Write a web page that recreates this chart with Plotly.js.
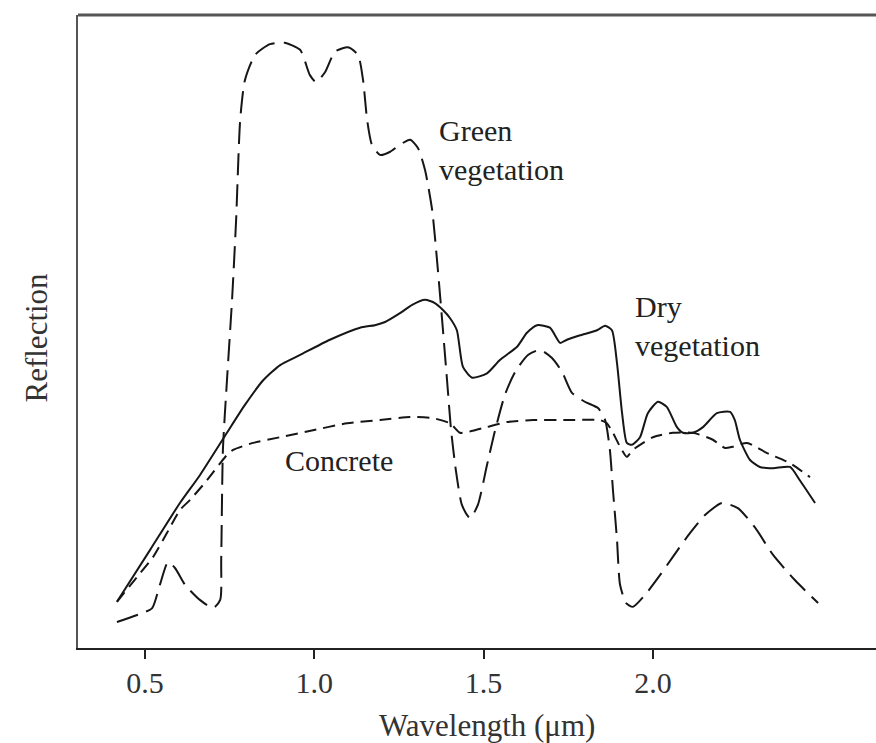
<!DOCTYPE html>
<html>
<head>
<meta charset="utf-8">
<script src="https://cdn.plot.ly/plotly-3.0.1.min.js"></script>
<style>html,body{margin:0;padding:0;background:#fff;}#chart{width:876px;height:743px;}</style>
</head>
<body>
<div id="chart"></div>
<script>
// Wavelength (µm) and relative reflection (0-100, arbitrary units)
const greenWavelength = [0.417,0.491,0.521,0.544,0.568,0.589,0.618,0.662,0.701,0.722,0.725,0.730,0.742,0.757,0.769,0.781,0.795,0.825,0.869,0.913,0.958,0.987,1.005,1.032,1.061,1.099,1.129,1.144,1.156,1.170,1.194,1.224,1.253,1.283,1.306,1.327,1.348,1.365,1.380,1.392,1.404,1.418,1.436,1.460,1.483,1.510,1.534,1.563,1.593,1.631,1.667,1.702,1.732,1.761,1.799,1.838,1.859,1.873,1.882,1.894,1.903,1.921,1.941,1.977,2.021,2.059,2.110,2.154,2.204,2.251,2.302,2.355,2.420,2.488];
const greenReflection = [4.1,5.5,6.3,10.0,13.6,12.6,10.0,7.6,6.3,7.6,13.9,31.3,42.3,55.0,67.6,83.4,89.7,93.7,95.4,95.6,94.5,90.5,89.4,91.0,94.2,94.9,93.7,89.7,83.4,79.5,77.9,78.4,79.5,80.3,79.0,75.5,69.2,59.7,50.2,42.3,34.4,28.1,22.6,20.5,22.6,28.9,34.4,40.0,43.6,46.3,47.1,45.8,43.6,40.3,38.9,37.9,36.0,31.3,25.0,17.1,10.0,7.1,6.5,8.4,11.5,14.4,18.2,21.0,22.9,22.1,19.0,14.7,10.7,7.1];

const dryWavelength = [0.417,0.515,0.603,0.662,0.742,0.795,0.849,0.899,0.958,1.046,1.135,1.179,1.209,1.253,1.289,1.327,1.356,1.380,1.401,1.421,1.439,1.466,1.510,1.548,1.599,1.628,1.658,1.696,1.726,1.746,1.785,1.835,1.859,1.879,1.894,1.909,1.923,1.938,1.962,1.985,2.015,2.041,2.071,2.089,2.118,2.148,2.189,2.228,2.242,2.257,2.287,2.316,2.355,2.405,2.434,2.479];
const dryReflection = [7.3,15.5,22.9,27.3,34.0,38.4,42.3,44.7,46.3,48.7,50.6,51.0,51.5,52.9,54.2,55.0,54.5,53.4,52.1,50.2,44.4,42.7,43.4,45.5,47.6,49.8,51.0,50.6,48.2,48.7,49.4,50.2,50.9,50.2,45.0,37.1,32.4,32.1,33.3,37.1,38.9,38.1,34.9,34.0,34.0,34.9,37.1,37.3,36.0,32.9,29.7,28.6,28.4,28.6,26.5,22.9];

const concreteWavelength = [0.417,0.476,0.524,0.565,0.603,0.633,0.683,0.722,0.742,0.760,0.819,0.899,0.996,1.097,1.194,1.283,1.351,1.401,1.430,1.451,1.510,1.569,1.646,1.746,1.844,1.864,1.882,1.903,1.923,1.941,2.000,2.059,2.118,2.177,2.213,2.236,2.278,2.337,2.405,2.464];
const concreteReflection = [7.3,11.2,14.4,18.2,21.8,23.4,26.5,29.2,30.5,31.3,32.4,33.3,34.4,35.5,36.0,36.5,36.3,35.5,34.0,34.1,34.9,35.7,36.0,36.0,36.0,35.5,34.0,31.8,30.2,31.3,33.3,34.0,34.0,32.9,31.6,31.8,32.4,30.8,29.2,27.0];

const tickValues = [0.5, 1.0, 1.5, 2.0];
const tickLabels = ['0.5', '1.0', '1.5', '2.0'];

const FONT = 'Liberation Serif, Times New Roman, serif';
const INK = '#161616';

const traces = [
  {x: greenWavelength, y: greenReflection, name: 'Green vegetation', mode: 'lines',
   line: {color: INK, width: 2, dash: '22px,9px', shape: 'spline', smoothing: 0.6}},
  {x: dryWavelength, y: dryReflection, name: 'Dry vegetation', mode: 'lines',
   line: {color: INK, width: 2, shape: 'spline', smoothing: 0.6}},
  {x: concreteWavelength, y: concreteReflection, name: 'Concrete', mode: 'lines',
   line: {color: INK, width: 2, dash: '12px,7px', shape: 'spline', smoothing: 0.6}}
];

const layout = {
  width: 876, height: 743,
  margin: {l: 78, r: 0, t: 15, b: 95},
  paper_bgcolor: '#ffffff', plot_bgcolor: '#ffffff',
  showlegend: false,
  font: {family: FONT, size: 30, color: '#222'},
  xaxis: {
    range: [0.302, 2.659], showgrid: false, zeroline: false,
    showline: true, linecolor: '#222', linewidth: 2,
    tickmode: 'array', tickvals: tickValues, ticktext: tickLabels,
    ticks: 'outside', ticklen: 9, tickwidth: 2, tickcolor: '#222',
    ticklabelstandoff: -2,
    tickfont: {family: FONT, size: 30, color: '#333'}
  },
  yaxis: {
    range: [0, 100], showgrid: false, zeroline: false,
    showline: true, linecolor: '#555', linewidth: 2,
    showticklabels: false, ticks: ''
  },
  shapes: [
    {type: 'line', xref: 'paper', yref: 'paper', x0: 0, x1: 1, y0: 1, y1: 1,
     line: {color: '#555', width: 3}}
  ],
  annotations: [
    {text: 'Wavelength (μm)', xref: 'paper', yref: 'paper', x: 0.5125, y: 0, yshift: -77,
     showarrow: false, xanchor: 'center', yanchor: 'middle', font: {family: FONT, size: 31, color: '#333'}},
    {text: 'Reflection', xref: 'paper', yref: 'paper', x: 0, y: 0.5, xshift: -42, yshift: -6, textangle: -90,
     showarrow: false, xanchor: 'center', yanchor: 'middle', font: {family: FONT, size: 31, color: '#333'}},
    {text: 'Green<br>vegetation', xref: 'x', yref: 'y', x: 1.362, y: 78.7, align: 'left',
     showarrow: false, xanchor: 'left', yanchor: 'middle', font: {family: FONT, size: 30, color: '#222'}},
    {text: 'Dry<br>vegetation', xref: 'x', yref: 'y', x: 1.942, y: 50.9, align: 'left',
     showarrow: false, xanchor: 'left', yanchor: 'middle', font: {family: FONT, size: 30, color: '#222'}},
    {text: 'Concrete', xref: 'x', yref: 'y', x: 0.907, y: 29.7, align: 'left',
     showarrow: false, xanchor: 'left', yanchor: 'middle', font: {family: FONT, size: 30, color: '#222'}}
  ]
};

Plotly.newPlot('chart', traces, layout, {staticPlot: true, displayModeBar: false});
</script>
</body>
</html>
